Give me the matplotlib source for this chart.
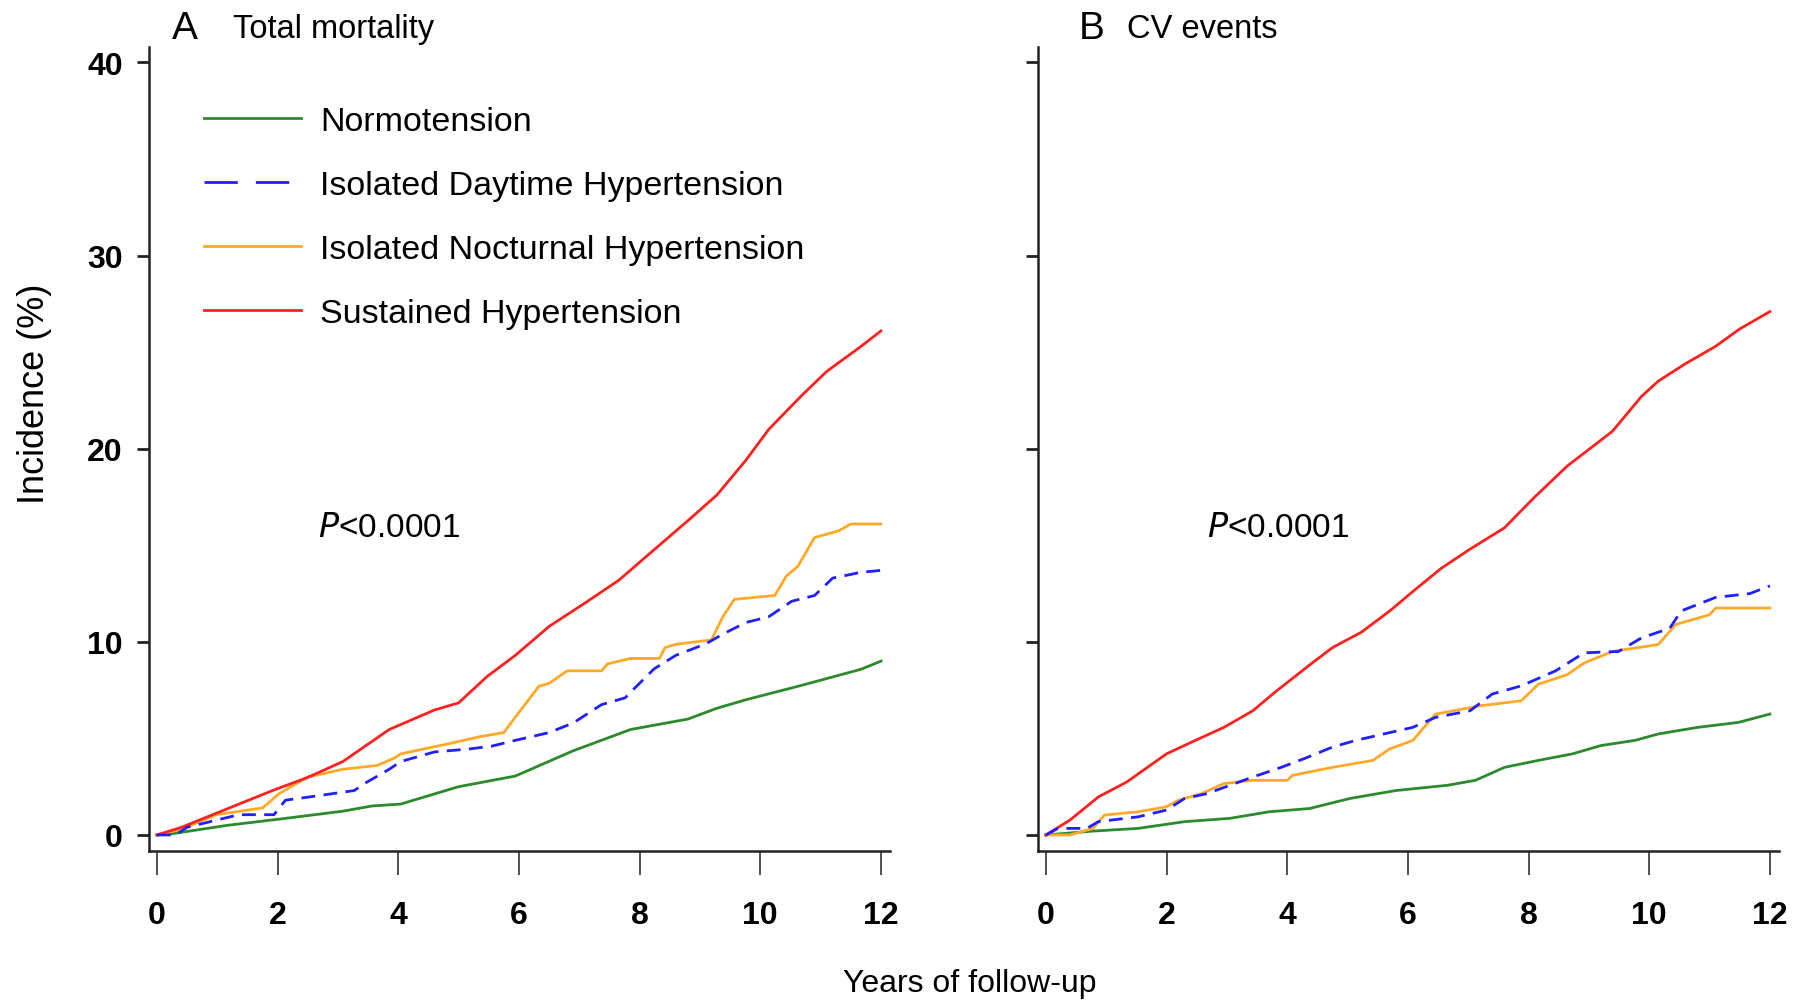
import matplotlib
matplotlib.use("Agg")
import matplotlib.pyplot as plt
from matplotlib.lines import Line2D

plt.rcParams['font.family'] = ['Liberation Sans', 'DejaVu Sans']

groups = ["Normotension", "Isolated Daytime Hypertension",
          "Isolated Nocturnal Hypertension", "Sustained Hypertension"]
colors = ['#2b8a2b', '#2020ff', '#ffa928', '#ff2020']

# Panel A: total mortality (years, incidence %)
a_norm_t = [0, 0.22, 1.17, 2.13, 3.08, 3.56, 4.04, 5.0, 5.94, 6.9, 7.85, 8.8, 9.28, 9.76, 10.7, 11.67, 12]
a_norm_v = [0, 0.05, 0.5, 0.86, 1.23, 1.5, 1.6, 2.5, 3.05, 4.36, 5.46, 6.0, 6.56, 7.0, 7.76, 8.58, 9.0]
a_day_t = [0, 0.31, 0.5, 1.36, 1.94, 2.13, 2.6, 3.27, 3.46, 3.85, 4.04, 4.6, 5.17, 5.55, 5.94, 6.5, 6.9,
           7.37, 7.76, 7.95, 8.24, 8.6, 9.1, 9.38, 9.76, 10.14, 10.52, 10.9, 11.2, 11.67, 12]
a_day_v = [0, 0, 0.4, 1.05, 1.05, 1.8, 2.0, 2.3, 2.7, 3.4, 3.8, 4.3, 4.45, 4.6, 4.9, 5.3, 5.8,
           6.75, 7.1, 7.7, 8.6, 9.3, 9.9, 10.4, 11.0, 11.3, 12.1, 12.4, 13.3, 13.6, 13.7]
a_noc_t = [0, 0.41, 0.98, 1.75, 2.03, 2.5, 3.08, 3.65, 3.94, 4.04, 4.8, 5.37, 5.75, 5.94, 6.33, 6.5,
           6.8, 7.37, 7.47, 7.85, 8.33, 8.42, 8.6, 9.19, 9.38, 9.57, 10.24, 10.43, 10.62, 10.9,
           11.3, 11.5, 12]
a_noc_v = [0, 0.3, 1.05, 1.4, 2.15, 3.0, 3.4, 3.6, 3.99, 4.2, 4.7, 5.1, 5.3, 6.1, 7.7, 7.85,
           8.5, 8.5, 8.86, 9.14, 9.14, 9.7, 9.87, 10.1, 11.3, 12.2, 12.4, 13.4, 13.9, 15.4,
           15.75, 16.1, 16.1]
a_sus_t = [0, 0.41, 1.36, 1.94, 2.5, 3.08, 3.85, 4.6, 5.0, 5.47, 5.94, 6.5, 7.09, 7.66, 8.14, 8.81,
           9.28, 9.76, 10.14, 10.7, 11.1, 11.67, 12]
a_sus_v = [0, 0.4, 1.6, 2.33, 2.98, 3.8, 5.46, 6.47, 6.84, 8.2, 9.3, 10.8, 12.0, 13.2, 14.5, 16.3,
           17.6, 19.4, 21.0, 22.8, 24.0, 25.3, 26.1]

# Panel B: CV events
b_norm_t = [0, 0.78, 1.53, 2.3, 3.05, 3.7, 4.37, 5.04, 5.8, 6.65, 7.12, 7.6, 8.16, 8.73, 9.2, 9.77,
            10.15, 10.8, 11.48, 12]
b_norm_v = [0, 0.2, 0.34, 0.69, 0.86, 1.2, 1.37, 1.89, 2.3, 2.57, 2.83, 3.5, 3.86, 4.2, 4.63, 4.9,
            5.23, 5.57, 5.83, 6.26]
b_day_t = [0, 0.2, 0.68, 0.87, 1.53, 2.0, 2.3, 2.67, 3.05, 3.43, 3.9, 4.28, 4.75, 5.13, 5.6, 6.08,
           6.46, 7.03, 7.4, 7.88, 8.45, 8.92, 9.49, 9.87, 10.34, 10.53, 11.1, 11.67, 12]
b_day_v = [0, 0.34, 0.34, 0.69, 0.94, 1.29, 1.89, 2.14, 2.57, 3.0, 3.5, 3.95, 4.55, 4.89, 5.23, 5.57,
           6.09, 6.43, 7.3, 7.72, 8.5, 9.43, 9.5, 10.2, 10.7, 11.6, 12.3, 12.5, 12.9]
b_noc_t = [0, 0.4, 0.78, 0.97, 1.53, 2.0, 2.2, 2.58, 2.95, 3.43, 4.0, 4.09, 4.75, 5.42, 5.7, 6.08,
           6.46, 7.2, 7.88, 8.16, 8.64, 8.92, 9.39, 10.15, 10.44, 11.0, 11.1, 12]
b_noc_v = [0, 0, 0.34, 1.03, 1.2, 1.46, 1.8, 2.14, 2.66, 2.83, 2.83, 3.09, 3.5, 3.86, 4.46, 4.89,
           6.26, 6.69, 6.95, 7.8, 8.3, 8.9, 9.5, 9.86, 10.9, 11.4, 11.75, 11.75]
b_sus_t = [0, 0.4, 0.87, 1.34, 2.0, 2.48, 2.95, 3.43, 3.8, 4.37, 4.75, 5.23, 5.7, 6.08, 6.55, 7.03,
           7.6, 8.07, 8.64, 9.39, 9.87, 10.15, 10.6, 11.1, 11.5, 12]
b_sus_v = [0, 0.77, 1.97, 2.74, 4.2, 4.9, 5.57, 6.43, 7.4, 8.8, 9.7, 10.5, 11.6, 12.6, 13.8, 14.8,
           15.9, 17.4, 19.1, 20.9, 22.7, 23.5, 24.4, 25.3, 26.2, 27.1]

panels = [
    ("A", "Total mortality", [(a_norm_t, a_norm_v), (a_day_t, a_day_v), (a_noc_t, a_noc_v), (a_sus_t, a_sus_v)]),
    ("B", "CV events", [(b_norm_t, b_norm_v), (b_day_t, b_day_v), (b_noc_t, b_noc_v), (b_sus_t, b_sus_v)]),
]

fig = plt.figure(figsize=(17.94, 10.04), dpi=100)
lefts = [0.0831, 0.5786]
title_x = [(0.0959, 0.1299), (0.6014, 0.6282)]

for i, (letter, title, series) in enumerate(panels):
    ax = fig.add_axes([lefts[i], 0.1514, 0.413, 0.8008])
    for (t, v), c, g in zip(series, colors, groups):
        if g.startswith("Isolated Daytime"):
            ax.plot(t, v, color=c, lw=2.0, dashes=(5, 3), zorder=3)
        else:
            ax.plot(t, v, color=c, lw=2.0, zorder=2)
    ax.set_xlim(-0.13, 12.15)
    ax.set_ylim(-0.83, 40.8)
    ax.set_xticks(range(0, 13, 2))
    ax.set_yticks(range(0, 41, 10))
    for s in ['top', 'right']:
        ax.spines[s].set_visible(False)
    for s in ['left', 'bottom']:
        ax.spines[s].set_linewidth(1.8)
        ax.spines[s].set_color('#222222')
    ax.tick_params(axis='x', length=17, width=1.1, pad=18, labelsize=23, colors='#222222')
    ax.tick_params(axis='y', length=9, width=2, pad=10, labelsize=23, colors='#222222',
                   labelleft=(i == 0))
    for lab in ax.get_xticklabels() + ax.get_yticklabels():
        lab.set_fontweight('bold')
        lab.set_color('black')
    ax.text(3.85, 15.9, r"$\it{P}$<0.0001", fontsize=24, ha='center', va='center')
    fig.text(title_x[i][0], 0.961, letter, fontsize=28, va='baseline')
    fig.text(title_x[i][1], 0.962, title, fontsize=23.5, va='baseline')

    if i == 0:
        handles = [Line2D([], [], color=colors[0], lw=2.0),
                   Line2D([], [], color=colors[1], lw=2.0, dashes=(12, 6.5)),
                   Line2D([], [], color=colors[2], lw=2.0),
                   Line2D([], [], color=colors[3], lw=2.0)]
        ax.legend(handles, groups, loc='upper left', bbox_to_anchor=(0.1137, 0.8934),
                  bbox_transform=fig.transFigure, frameon=False, fontsize=24.5,
                  handlelength=2.85, handletextpad=0.56, labelspacing=0.965,
                  borderpad=0, borderaxespad=0)

fig.text(0.0195, 0.6076, "Incidence (%)", fontsize=26, rotation=90, ha='center', va='center')
fig.text(0.5407, 0.0199, "Years of follow-up", fontsize=23, ha='center', va='center')

fig.savefig("out.png", dpi=100)
